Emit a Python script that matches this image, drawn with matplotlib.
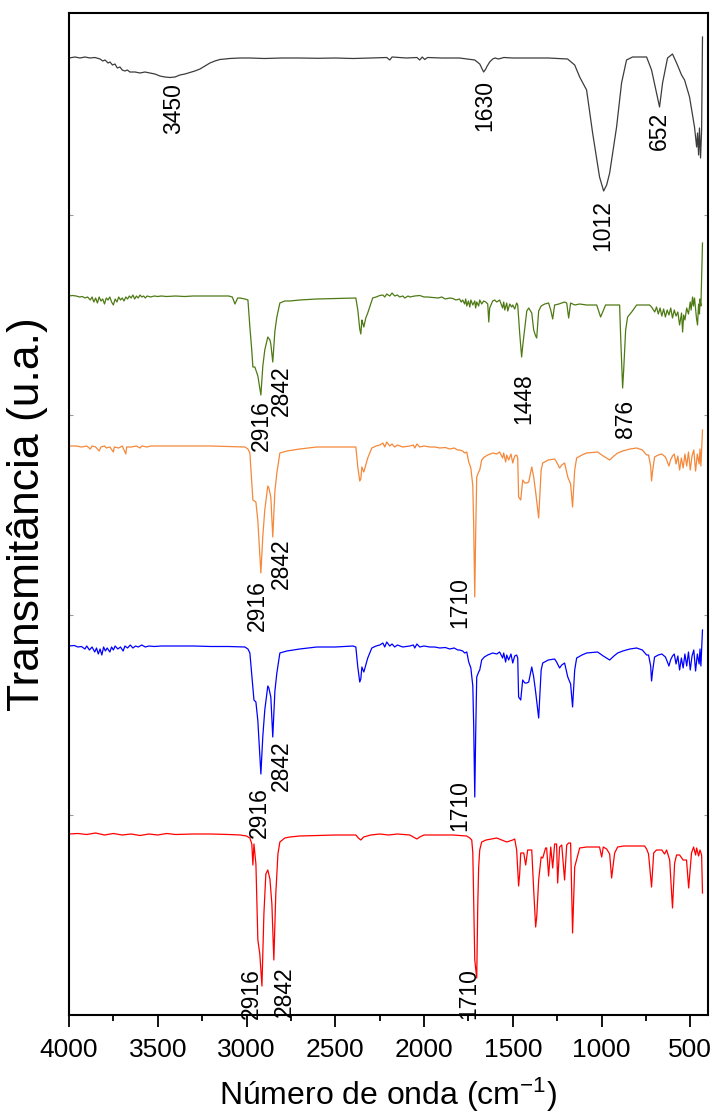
import matplotlib
matplotlib.use('Agg')
import matplotlib.pyplot as plt
from matplotlib.ticker import MultipleLocator

plt.rcParams['font.family'] = ['Liberation Sans', 'DejaVu Sans']
plt.rcParams['mathtext.default'] = 'regular'

# FTIR spectra: wavenumber (cm-1) and relative transmittance (u.a., baseline = 0)
wn_black = [4000, 3966, 3938, 3910, 3882, 3854, 3825, 3810, 3797, 3780, 3769, 3755, 3741, 3728, 3713,
            3700, 3685, 3671, 3657, 3628, 3600, 3572, 3544, 3516, 3488, 3460, 3431, 3403, 3375, 3347,
            3319, 3291, 3262, 3234, 3206, 3178, 3150, 3094, 3037, 2981, 2900, 2800, 2700, 2600, 2500,
            2400, 2300, 2210, 2193, 2180, 2100, 2040, 2024, 2010, 1996, 1980, 1900, 1800, 1714, 1700,
            1686, 1675, 1664, 1652, 1647, 1630, 1613, 1600, 1580, 1550, 1500, 1400, 1300, 1191, 1151,
            1123, 1084, 1050, 1011, 988, 971, 954, 915, 887, 859, 825, 746, 718, 690, 673, 656, 628,
            600, 577, 549, 532, 504, 476, 464, 459, 453, 448, 442, 436, 431]
t_black = [0, 1, 0, 1, 0, 0.5, -1, -3, -2, -5, -4, -7, -6, -10, -9,
           -12, -13, -12, -14, -14, -15, -14, -15, -16, -18, -19, -19.5, -19, -17, -16,
           -14.5, -13, -11, -8, -5, -3, -1.5, -0.5, 0, 0, -0.5, 0, 0, -0.3, 0,
           -0.5, 0, 0.5, -2, 1, 0, 0.5, -2, 1, -1.5, 0.5, 0, 0, -2, -4,
           -6, -10, -14, -11, -9, -4, -1, 0, -1, 0.5, 0, 0, 0, -1, -7,
           -19, -32, -75, -119, -133, -127, -115, -69, -25, -2, 1, 1, -12, -35, -49, -25, 0,
           4, -5, -17, -22, -39, -69, -89, -75, -97, -70, -100, -72, 21]

wn_green = [4000, 3980, 3960, 3940, 3925, 3910, 3895, 3880, 3870, 3860, 3850, 3840, 3830, 3820, 3810,
            3800, 3790, 3780, 3770, 3760, 3750, 3740, 3730, 3720, 3710, 3700, 3690, 3680, 3670, 3660,
            3650, 3640, 3630, 3620, 3610, 3600, 3590, 3580, 3570, 3560, 3540, 3520, 3500, 3480, 3450,
            3400, 3350, 3300, 3200, 3100, 3080, 3065, 3050, 3037, 3009, 2992, 2981, 2970, 2964, 2953,
            2936, 2919, 2908, 2897, 2880, 2868, 2863, 2852, 2840, 2829, 2812, 2784, 2756, 2700, 2604,
            2500, 2400, 2384, 2373, 2362, 2356, 2350, 2345, 2339, 2328, 2317, 2300, 2289, 2270, 2249,
            2232, 2221, 2210, 2193, 2180, 2165, 2150, 2137, 2120, 2108, 2090, 2080, 2052, 2024, 2000,
            1980, 1951, 1920, 1900, 1880, 1855, 1838, 1820, 1800, 1790, 1782, 1771, 1765, 1759, 1750,
            1742, 1736, 1725, 1714, 1709, 1703, 1692, 1686, 1675, 1664, 1652, 1641, 1635, 1630, 1613,
            1602, 1590, 1574, 1557, 1551, 1545, 1534, 1528, 1517, 1506, 1500, 1489, 1478, 1472, 1461,
            1450, 1444, 1432, 1421, 1410, 1393, 1382, 1371, 1365, 1354, 1340, 1320, 1298, 1286, 1275,
            1264, 1240, 1208, 1196, 1185, 1174, 1151, 1123, 1084, 1050, 1027, 1005, 977, 954, 920,
            898, 892, 881, 875, 864, 853, 830, 802, 760, 729, 718, 700, 690, 680, 670,
            660, 650, 640, 630, 620, 610, 600, 590, 580, 570, 560, 549, 543, 537, 530,
            520, 510, 500, 495, 487, 482, 476, 465, 459, 453, 448, 445, 440, 436, 431]
t_green = [0, 0.5, 0, -1, -0.5, -2, -1, -4, -1, -6, -2, -7, -1, -5, -3,
           -8, -2, -4, -1, -6, -9, -3, -6, -1, -4, -2, -5, -1, -3, 0,
           -2, 1, -3, 0, -2, 1, -1, 0, -2, 0, -1, 0, -0.5, 0, -0.5,
           0, -0.5, 0, 0, 0, -1, -8, -2, -2, -3, -4, -31, -55, -71, -71,
           -80, -99, -70, -54, -41, -44, -48, -66, -35, -21, -7, -5, -5, -4, -3,
           -2.5, -2, -2, -14, -33, -38, -24, -27, -31, -22, -17, -8, -2, -1, 0.5,
           1, -1, 2, 0, 3, 0, 1, -1, 0, -2, 0, -1, 0, 0.5, -1,
           -1, -1.5, -2, -1, -3, -2, -2.5, -4, -3, -6, -4, -8, -3, -10, -5,
           -11, -4, -9, -5, -12, -6, -10, -4, -8, -5, -6, -8, -26, -12, -5,
           -4, -6, -4, -12, -6, -14, -7, -15, -8, -11, -9, -13, -7, -9, -37,
           -61, -50, -32, -15, -12, -17, -34, -40, -42, -15, -10, -8, -7, -14, -23,
           -9, -8, -6, -7, -22, -7, -9, -8, -9, -9, -9, -21, -9, -9, -9,
           -9, -41, -92, -74, -34, -21, -16, -9, -9, -9, -11, -16, -11, -18, -12,
           -20, -13, -21, -14, -19, -12, -22, -14, -20, -16, -29, -17, -36, -19, -24,
           -12, -18, -6, -14, -1, -10, -2, -22, -29, -8, -18, -3, -10, 20, 53]

wn_orange = [4000, 3960, 3930, 3900, 3880, 3870, 3850, 3830, 3820, 3800, 3790, 3770, 3750, 3745, 3720,
             3700, 3680, 3675, 3650, 3620, 3600, 3590, 3560, 3540, 3500, 3400, 3200, 3100, 3009, 2992,
             2981, 2964, 2947, 2936, 2919, 2908, 2897, 2880, 2874, 2863, 2852, 2840, 2829, 2812, 2773,
             2700, 2604, 2500, 2400, 2384, 2373, 2362, 2356, 2350, 2339, 2317, 2294, 2270, 2249, 2232,
             2221, 2210, 2193, 2180, 2165, 2150, 2120, 2080, 2060, 2052, 2040, 2024, 2000, 1968, 1940,
             1911, 1880, 1855, 1830, 1810, 1799, 1782, 1771, 1759, 1748, 1736, 1725, 1720, 1714, 1709,
             1703, 1692, 1686, 1675, 1660, 1641, 1613, 1590, 1574, 1557, 1551, 1540, 1534, 1523, 1510,
             1500, 1489, 1478, 1472, 1467, 1455, 1444, 1432, 1421, 1410, 1393, 1382, 1371, 1354, 1340,
             1331, 1300, 1264, 1253, 1236, 1224, 1208, 1190, 1174, 1163, 1151, 1140, 1110, 1084, 1022,
             990, 954, 930, 909, 880, 840, 802, 770, 746, 735, 723, 718, 712, 701, 680,
             660, 640, 633, 620, 611, 600, 590, 580, 570, 560, 550, 540, 530, 520, 510,
             500, 490, 480, 470, 460, 450, 445, 440, 436, 431]
t_orange = [0, 0, -1, 0, -3, 0, -1, -5, -1, 0, -2, -1, -6, -1, -2,
            0, -8, -1, -1, 0, -2, 0, -1, 0, 0, 0, 0, -0.5, -1, -3,
            -7, -54, -56, -75, -127, -90, -64, -40, -42, -51, -91, -45, -27, -7, -5,
            -3, -1, -1, -1, -1, -21, -35, -33, -21, -26, -12, -2, 0, 1, 3,
            -1, 4, 0, 2, -1, 1, -1, 0, 1, -2, 2, -1, 0, -1, -1,
            -2, -1.5, -3, -2, -4, -4, -5, -7, -6, -16, -22, -40, -80, -151, -90,
            -31, -26, -24, -14, -11, -9, -7, -8, -6, -12, -7, -16, -9, -14, -8,
            -17, -10, -9, -12, -51, -54, -34, -37, -37, -36, -21, -31, -46, -72, -24,
            -17, -14, -13, -16, -22, -19, -17, -31, -38, -61, -24, -12, -9, -7, -6,
            -10, -14, -10, -7, -5, -3, -2, -4, -9, -9, -20, -35, -25, -11, -9,
            -8, -11, -14, -20, -14, -10, -8, -18, -10, -24, -12, -22, -8, -20, -6,
            -24, -10, -4, -25, -8, -18, -3, -20, -5, 16]

wn_blue = [4000, 3970, 3950, 3930, 3910, 3900, 3885, 3870, 3855, 3845, 3835, 3825, 3815, 3805, 3795,
           3785, 3770, 3760, 3750, 3740, 3725, 3710, 3695, 3685, 3670, 3655, 3640, 3625, 3610, 3590,
           3570, 3550, 3520, 3480, 3400, 3300, 3200, 3100, 3009, 2992, 2981, 2958, 2947, 2936, 2919,
           2908, 2897, 2880, 2874, 2863, 2852, 2840, 2829, 2812, 2773, 2700, 2604, 2500, 2400, 2384,
           2373, 2362, 2356, 2350, 2339, 2317, 2294, 2270, 2249, 2232, 2221, 2210, 2193, 2180, 2165,
           2150, 2120, 2080, 2060, 2052, 2040, 2024, 2000, 1968, 1940, 1911, 1880, 1855, 1830, 1810,
           1799, 1782, 1771, 1759, 1748, 1736, 1725, 1720, 1714, 1709, 1703, 1692, 1686, 1675, 1660,
           1641, 1613, 1590, 1574, 1557, 1551, 1540, 1534, 1523, 1510, 1500, 1489, 1478, 1472, 1467,
           1455, 1444, 1432, 1421, 1410, 1393, 1382, 1371, 1354, 1340, 1331, 1300, 1264, 1253, 1236,
           1224, 1208, 1190, 1174, 1163, 1151, 1140, 1110, 1084, 1022, 990, 954, 930, 909, 880,
           840, 802, 770, 746, 735, 723, 718, 712, 701, 680, 660, 640, 633, 620, 611,
           600, 590, 580, 570, 560, 550, 540, 530, 520, 510, 500, 490, 480, 470, 460,
           450, 445, 440, 436, 431]
t_blue = [0, 0.5, -1, -0.5, -3, 0, -4, -1, -6, -2, -8, -3, -9, -1, -5,
          -2, -6, -1, -4, 0, -3, -1, -5, 0, -2, 1, -2, 0, -1, 1,
          -1, 0, -0.5, 0, 0, 0, -0.5, -0.5, -1, -3, -7, -54, -56, -75, -128,
          -90, -64, -40, -42, -51, -91, -45, -27, -7, -5, -3, -1, -1, 0, -1,
          -21, -36, -33, -21, -26, -12, -2, 0, 1, 3, -1, 4, 0, 2, -1,
          1, -1, 0, 1, -2, 2, -1, 0, -1, -1, -2, -1.5, -3, -2, -4,
          -4, -5, -7, -6, -16, -22, -40, -80, -151, -90, -31, -26, -24, -14, -11,
          -9, -7, -8, -6, -12, -7, -16, -9, -14, -8, -17, -10, -9, -12, -51,
          -54, -34, -37, -37, -36, -21, -31, -46, -72, -24, -17, -14, -13, -16, -22,
          -19, -17, -31, -38, -61, -24, -12, -9, -7, -6, -10, -14, -10, -7, -5,
          -3, -2, -4, -9, -9, -20, -35, -25, -11, -9, -8, -11, -14, -20, -14,
          -10, -8, -18, -10, -24, -12, -22, -8, -20, -6, -24, -10, -4, -25, -8,
          -18, -3, -20, -5, 16]

wn_red = [4000, 3950, 3900, 3850, 3800, 3750, 3700, 3650, 3600, 3550, 3500, 3450, 3400, 3300, 3200,
          3100, 3037, 3000, 2981, 2970, 2964, 2958, 2947, 2936, 2925, 2913, 2902, 2891, 2880, 2868,
          2857, 2846, 2835, 2823, 2812, 2784, 2756, 2700, 2600, 2500, 2400, 2384, 2370, 2356, 2340,
          2300, 2249, 2200, 2150, 2080, 2040, 2024, 2000, 1968, 1900, 1838, 1760, 1742, 1731, 1725,
          1714, 1703, 1697, 1692, 1686, 1675, 1650, 1590, 1534, 1500, 1489, 1478, 1467, 1461, 1455,
          1438, 1427, 1416, 1393, 1382, 1371, 1365, 1354, 1340, 1331, 1315, 1309, 1298, 1286, 1275,
          1264, 1253, 1247, 1236, 1224, 1208, 1196, 1185, 1174, 1163, 1151, 1123, 1084, 1039, 1011,
          999, 990, 971, 954, 943, 926, 909, 875, 830, 757, 746, 735, 718, 706, 690,
          660, 645, 633, 616, 600, 588, 577, 560, 540, 521, 509, 493, 481, 470, 464,
          453, 445, 436, 431]
t_red = [0, 0.5, -0.5, 1, -1, 0.5, -1, 0, -1.5, 0, -1, 0.5, -0.5, 0, 0,
         -0.5, -1, -2, -4, -10, -31, -10, -30, -106, -120, -152, -80, -40, -36, -45,
         -70, -126, -60, -20, -8, -4, -3, -2, -1.5, -1, -1, -1, -4, -6, -3,
         -1, 0, -1, 0, -1, -5, -3, -1, -1, -1, -1, -2, -4, -6, -19,
         -126, -144, -70, -33, -16, -8, -6, -4, -8, -6, -5, -16, -52, -40, -19,
         -19, -31, -16, -16, -56, -93, -83, -46, -23, -24, -14, -14, -42, -13, -34,
         -10, -10, -49, -13, -11, -46, -11, -9, -9, -99, -33, -14, -13, -13, -13,
         -23, -13, -15, -20, -44, -19, -13, -12, -12, -12, -15, -20, -53, -19, -16,
         -16, -20, -16, -26, -74, -29, -21, -21, -26, -26, -54, -19, -13, -21, -14,
         -22, -16, -21, -59]

colors = ['#3c3c3c', '#4e7a14', '#f5883a', '#0000ff', '#ff0000']
offsets = [957, 719, 569, 369, 181]

# peak labels: (text, wavenumber, top of label)
labels_black = [('3450', 3409, 932), ('1630', 1658, 935), ('1012', 994, 815), ('652', 673, 903)]
labels_green = [('2916', 2919, 615), ('2842', 2806, 650), ('1448', 1438, 642), ('876', 864, 615)]
labels_orange = [('2916', 2936, 435), ('2842', 2801, 477), ('1710', 1799, 438)]
labels_blue = [('2916', 2930, 228), ('2842', 2801, 275), ('1710', 1799, 235)]
labels_red = [('2916', 2970, 47), ('2842', 2784, 49), ('1710', 1748, 47)]

fig = plt.figure(figsize=(7.14, 11.19), dpi=100)
ax = fig.add_axes([69 / 714, 1 - 1015 / 1119, 639 / 714, 1002 / 1119])

spectra = [(wn_black, t_black), (wn_green, t_green), (wn_orange, t_orange),
           (wn_blue, t_blue), (wn_red, t_red)]
for (wn, t), c, off in zip(spectra, colors, offsets):
    ax.plot(wn, [v + off for v in t], color=c, lw=0.9)

for labs in [labels_black, labels_green, labels_orange, labels_blue, labels_red]:
    for txt, x, y in labs:
        ax.text(x, y, txt, rotation=90, ha='center', va='top', fontsize=16.5)

ax.set_xlim(4000, 400)
ax.set_ylim(0, 1002)
ax.xaxis.set_major_locator(MultipleLocator(500))
ax.xaxis.set_minor_locator(MultipleLocator(250))
ax.set_yticks([200, 400, 600, 800])
ax.tick_params(axis='x', which='major', direction='out', length=8.5, width=1.3, labelsize=19, pad=8)
ax.tick_params(axis='x', which='minor', direction='out', length=4.5, width=1.3)
ax.tick_params(axis='y', left=True, right=True, direction='in', length=3, width=0.8,
               color='#999999', labelleft=False)
for s in ax.spines.values():
    s.set_linewidth(1.5)

ax.set_xlabel('Número de onda (cm$^{-1}$)', fontsize=23, labelpad=10)
ax.set_ylabel('Transmitância (u.a.)', fontsize=32, labelpad=15)

fig.savefig('out.png', dpi=100)
